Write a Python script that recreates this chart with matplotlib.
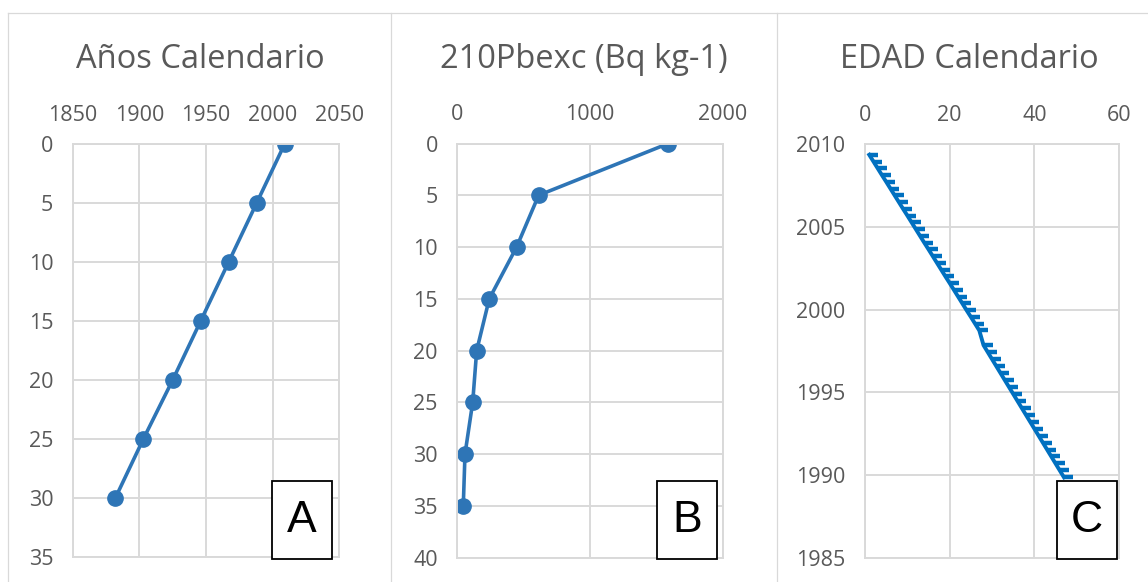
import numpy as np
import matplotlib
matplotlib.use('Agg')
import matplotlib.pyplot as plt
from matplotlib.path import Path
from matplotlib.patches import Rectangle
from matplotlib.lines import Line2D

plt.rcParams['font.family'] = ['Open Sans', 'DejaVu Sans']

##
## Data
##
# A: calendar years vs depth (cm)
depth_a = [0, 5, 10, 15, 20, 25, 30]
years_a = [2009, 1988, 1967, 1946, 1925, 1903, 1882]

# B: 210Pb excess activity vs depth (cm)
depth_b = [0, 5, 10, 15, 20, 25, 30, 35]
pb_b = [1590, 613, 447, 241, 146, 116, 58, 45]

# C: age vs calendar year
edad_c = [1, 2, 3, 4, 5, 6, 7, 8, 9, 10, 11, 12, 13, 14, 15, 16,
          17, 18, 19, 20, 21, 22, 23, 24, 25, 26, 27, 28, 29, 30, 31, 32,
          33, 34, 35, 36, 37, 38, 39, 40, 41, 42, 43, 44, 45, 46, 47]
years_c = [2009.35, 2008.94, 2008.53, 2008.12, 2007.72, 2007.31, 2006.90,
           2006.49, 2006.08, 2005.68, 2005.27, 2004.86, 2004.45, 2004.04,
           2003.64, 2003.23, 2002.82, 2002.41, 2002.00, 2001.60, 2001.19,
           2000.78, 2000.37, 1999.96, 1999.56, 1999.15, 1998.74, 1997.85,
           1997.43, 1997.01, 1996.59, 1996.17, 1995.75, 1995.33, 1994.91,
           1994.49, 1994.07, 1993.65, 1993.23, 1992.81, 1992.39, 1991.97,
           1991.55, 1991.13, 1990.71, 1990.29, 1989.87]

titles = ['Años Calendario', '210Pbexc (Bq kg-1)', 'EDAD Calendario']
letters = ['A', 'B', 'C']

W, H = 1148, 582
GRID = '#d9d9d9'
TXT = '#595959'

fig = plt.figure(figsize=(W / 100, H / 100), dpi=100)


def px_axes(x0, x1, y0, y1):
    return fig.add_axes([x0 / W, 1 - y1 / H, (x1 - x0) / W, (y1 - y0) / H])


def style(ax):
    ax.xaxis.tick_top()
    ax.tick_params(length=0, labelsize=15.5, colors=TXT)
    ax.tick_params(axis='x', pad=13)
    ax.tick_params(axis='y', pad=14)
    ax.grid(True, color=GRID, lw=1.4)
    ax.set_axisbelow(True)
    for s in ax.spines.values():
        s.set_color(GRID)
        s.set_linewidth(1.4)


# chart frames
for xs in [8, 391, 777]:
    fig.add_artist(Line2D([xs / W, xs / W], [0, 1 - 12.5 / H], color=GRID, lw=0.9))
fig.add_artist(Line2D([8 / W, 1], [1 - 12.5 / H, 1 - 12.5 / H], color=GRID, lw=0.9))

##
## Panel A
##
ax1 = px_axes(72.7, 339.3, 144, 557)
style(ax1)
ax1.plot(years_a, depth_a, 'o-', color='#2e75b6', lw=2.6, ms=11)
ax1.set_xlim(1850, 2050)
ax1.set_ylim(35, 0)
ax1.set_xticks(np.arange(1850, 2051, 50))
ax1.set_yticks(np.arange(0, 36, 5))

##
## Panel B
##
ax2 = px_axes(457.3, 722.7, 143.5, 557.7)
style(ax2)
ax2.plot(pb_b, depth_b, 'o-', color='#2e75b6', lw=2.6, ms=11)
ax2.set_xlim(0, 2000)
ax2.set_ylim(40, 0)
ax2.set_xticks([0, 1000, 2000])
ax2.set_yticks(np.arange(0, 41, 5))

##
## Panel C
##
dash = Path([(0, 0), (1, 0)], [Path.MOVETO, Path.LINETO])
ax3 = px_axes(865, 1119, 144, 558)
style(ax3)
ax3.plot(edad_c, years_c, '-', color='#0070c0', lw=2.8, marker=dash,
         ms=13, mew=3.2, mec='#0070c0')
ax3.set_xlim(0, 60)
ax3.set_ylim(1985, 2010)
ax3.set_xticks([0, 20, 40, 60])
ax3.set_yticks(np.arange(1985, 2011, 5))

# titles centred on each chart frame
for xc, t in zip([200, 584, 969], titles):
    fig.text(xc / W, 1 - 68 / H, t, ha='center', va='baseline', fontsize=23.5,
             color=TXT)

# letter boxes
for x0, l in zip([271.7, 656.5, 1056.7], letters):
    fig.add_artist(Rectangle((x0 / W, 1 - 559 / H), 60.5 / W, 78 / H,
                             transform=fig.transFigure, facecolor='white',
                             edgecolor='black', lw=1.3, zorder=5))
    fig.text((x0 + 30.3) / W, 1 - 521 / H, l, ha='center', va='center',
             fontsize=32, color='black', family=['Liberation Sans'], zorder=6)

plt.savefig('out.png', dpi=100)
